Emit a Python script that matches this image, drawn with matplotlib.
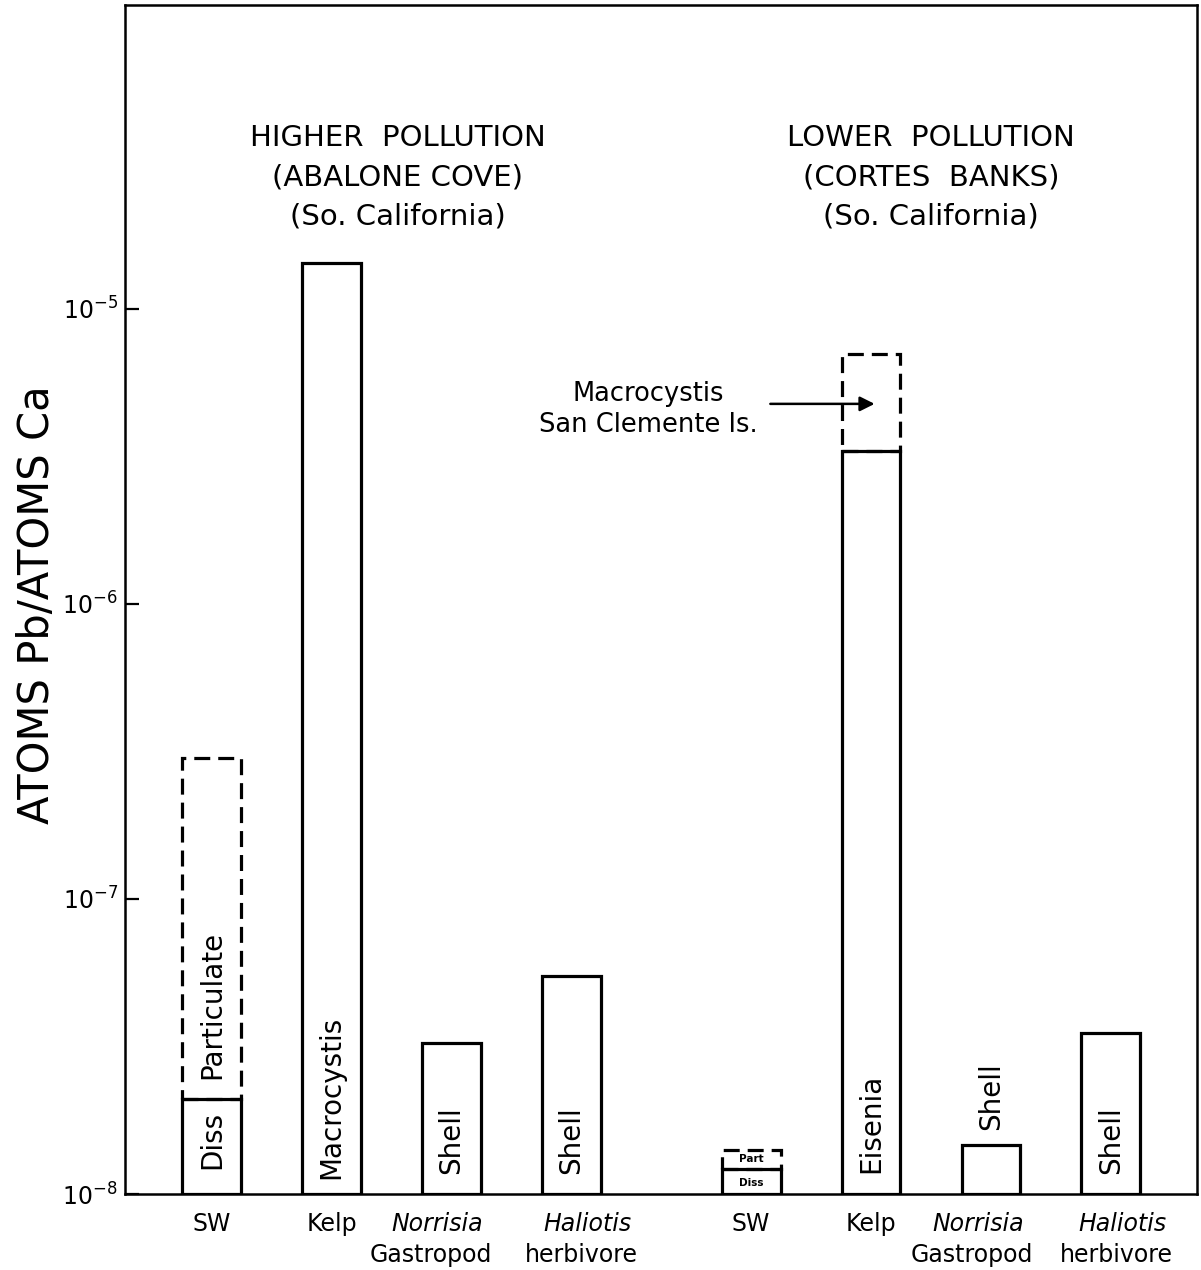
import matplotlib
matplotlib.use("Agg")
import matplotlib.pyplot as plt
from matplotlib.transforms import blended_transform_factory

# Bar positions (two sites, four sample types each)
positions = [0, 1, 2, 3, 4.5, 5.5, 6.5, 7.5]
categories = ["SW", "Kelp", "Norrisia", "Haliotis", "SW", "Kelp", "Norrisia", "Haliotis"]
sublabels = ["", "", "Gastropod", "herbivore", "", "", "Gastropod", "herbivore"]
italic_cat = [False, False, True, True, False, False, True, True]

# Pb/Ca atom ratios (solid bars)
solid_values = [2.1e-8, 1.43e-5, 3.25e-8, 5.5e-8, 1.22e-8, 3.3e-6, 1.47e-8, 3.5e-8]
# Dashed extensions: (bar index, lower value, upper value)
dashed_ext = [(0, 2.1e-8, 3.0e-7), (4, 1.22e-8, 1.41e-8), (5, 3.3e-6, 7.0e-6)]

bar_texts = ["Diss", "Macrocystis", "Shell", "Shell", "", "Eisenia", "Shell", "Shell"]
bar_text_y = [1.52e-8, 2.13e-8, 1.52e-8, 1.52e-8, None, 1.74e-8, 2.15e-8, 1.52e-8]

site_titles = ["HIGHER  POLLUTION\n(ABALONE COVE)\n(So. California)",
               "LOWER  POLLUTION\n(CORTES  BANKS)\n(So. California)"]
site_title_x = [1.55, 6.0]

yticks = [1e-8, 1e-7, 1e-6, 1e-5]
ytick_labels = [r"$10^{-8}$", r"$10^{-7}$", r"$10^{-6}$", r"$10^{-5}$"]

plt.rcParams["font.family"] = ["DejaVu Sans"]
plt.rcParams["mathtext.fontset"] = "dejavusans"

fig = plt.figure(figsize=(12.01, 12.70), dpi=100)
ax = fig.add_axes([0.104, 0.0598, 0.8927, 0.9363])
ax.set_yscale("log")
ax.set_ylim(1e-8, 1.07e-4)
ax.set_xlim(-0.725, 8.22)

lw = 2.3
width = 0.49
ax.bar(positions, [v - 1e-8 for v in solid_values], bottom=1e-8, width=width,
       fill=False, edgecolor="black", linewidth=lw, zorder=3)
for i, lo, hi in dashed_ext:
    ax.bar(positions[i], hi - lo, bottom=lo, width=width, fill=False,
           edgecolor="black", linewidth=lw, linestyle=(0, (5, 2.5)), zorder=2)

# Text inside / above bars
for x, t, y in zip(positions, bar_texts, bar_text_y):
    if t:
        ax.text(x, y, t, rotation=90, ha="center", va="center", fontsize=20)
ax.text(positions[0], 4.37e-8, "Particulate", rotation=90, ha="center",
        va="center", fontsize=20)
ax.text(positions[4], 1.31e-8, "Part", ha="center", va="center", fontsize=7.5,
        fontweight="bold")
ax.text(positions[4], 1.09e-8, "Diss", ha="center", va="center", fontsize=7.5,
        fontweight="bold")

# Site headings
for x, t in zip(site_title_x, site_titles):
    ax.text(x, 1.84e-5, t, ha="center", va="bottom", fontsize=21, linespacing=1.52)

# Note and arrow for the San Clemente Island Macrocystis value
ax.text(3.64, 4.55e-6, "Macrocystis\nSan Clemente Is.", ha="center", va="center",
        fontsize=18.5, linespacing=1.25)
ax.annotate("", xy=(5.53, 4.76e-6), xytext=(4.66, 4.76e-6),
            arrowprops=dict(arrowstyle="-|>", color="black", lw=1.8,
                            mutation_scale=22, shrinkA=0, shrinkB=0))

# Category labels below the axis
trans = blended_transform_factory(ax.transData, ax.transAxes)
label_shift = [0, 0, -0.12, 0.13, 0, 0, -0.11, 0.1]
for x, c, s, it, dx in zip(positions, categories, sublabels, italic_cat, label_shift):
    ax.text(x + dx, -0.015, c, transform=trans, ha="center", va="top",
            fontsize=17, style="italic" if it else "normal")
    if s:
        ax.text(x + dx - 0.05, -0.041, s, transform=trans, ha="center", va="top",
                fontsize=17)

ax.set_yticks(yticks)
ax.set_yticklabels(ytick_labels, fontsize=17)
ax.yaxis.set_minor_locator(matplotlib.ticker.NullLocator())
ax.tick_params(axis="y", direction="in", length=10, width=1.6, pad=5)
ax.set_xticks([])
for sp in ax.spines.values():
    sp.set_linewidth(1.8)

fig.text(0.031, 0.524, "ATOMS Pb/ATOMS Ca", rotation=90, ha="center", va="center",
         fontsize=30)

fig.savefig("out.png", dpi=100)
